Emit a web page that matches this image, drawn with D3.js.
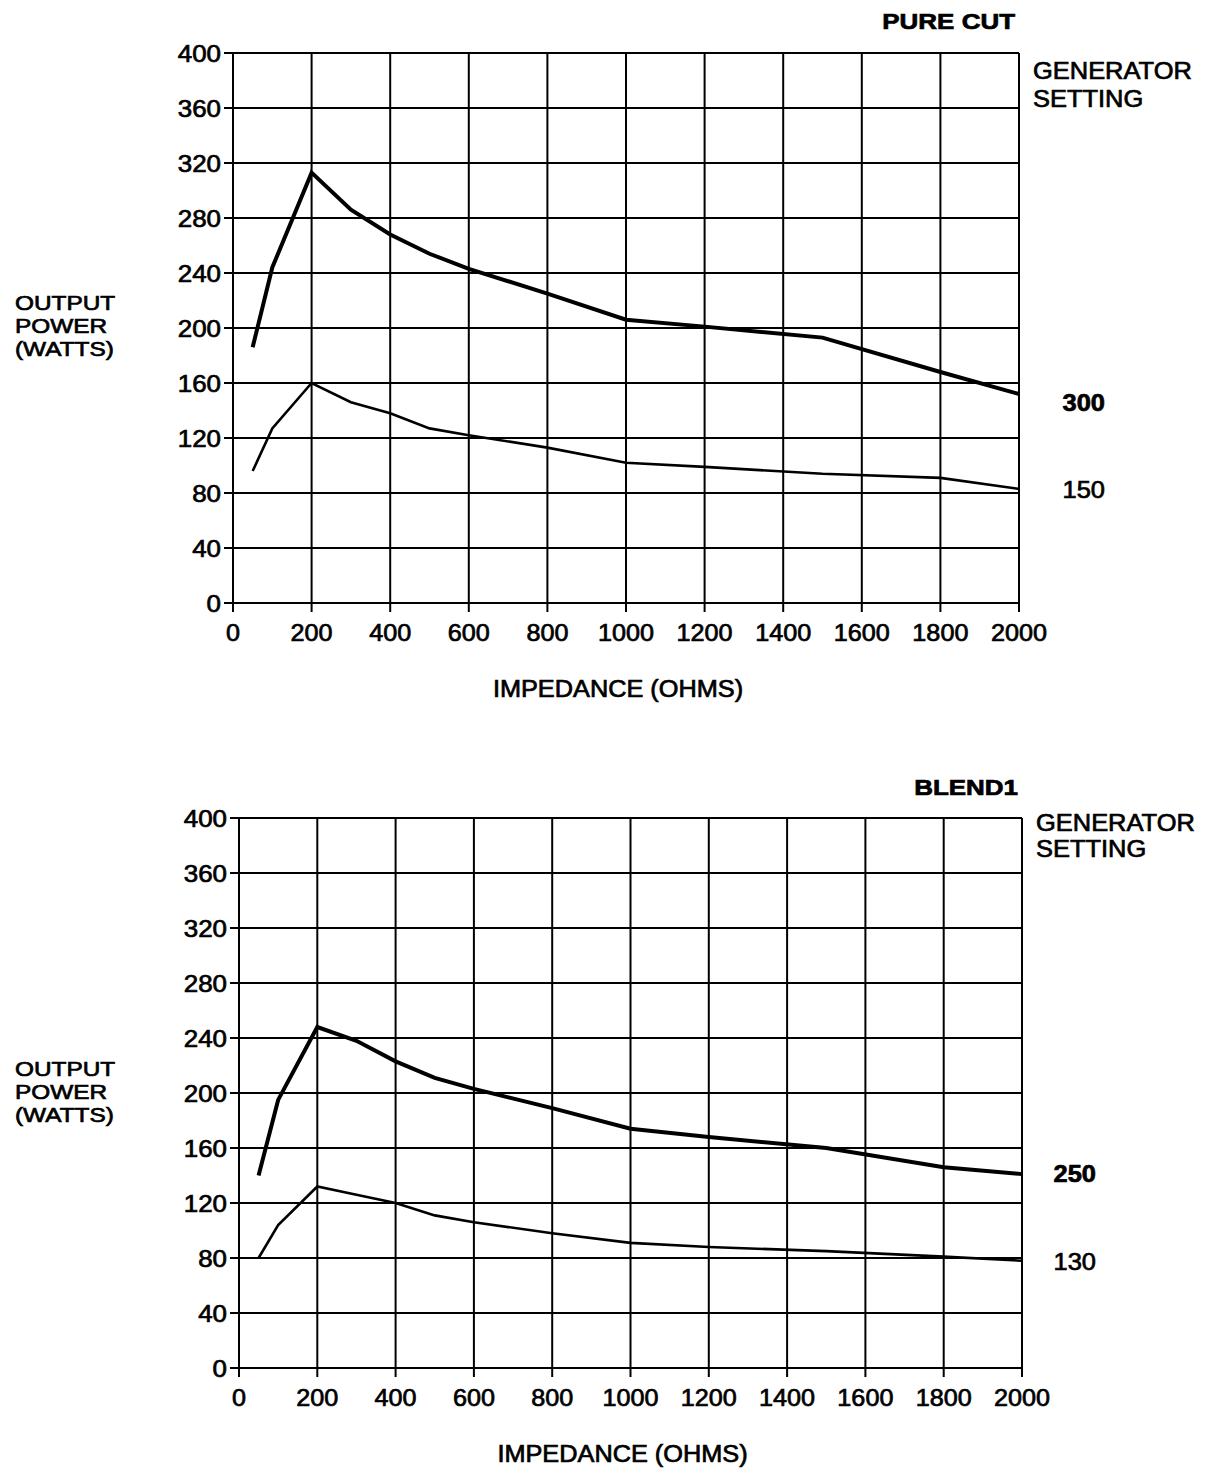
<!DOCTYPE html>
<html>
<head>
<meta charset="utf-8">
<script src="https://cdn.jsdelivr.net/npm/d3@7"></script>
<style>
  html, body { margin: 0; padding: 0; background: #fff; }
  svg { display: block; font-family: "Liberation Sans", Arial, Helvetica, sans-serif; }
  text.heavy { stroke: #000; stroke-width: 0.7px; }
</style>
</head>
<body>
<svg id="chart" width="1220" height="1469"></svg>
<script>
// ---------- DATA ----------
const yTicks = [0, 40, 80, 120, 160, 200, 240, 280, 320, 360, 400];
const xTicks = [0, 200, 400, 600, 800, 1000, 1200, 1400, 1600, 1800, 2000];

const impedance = [50, 100, 200, 300, 400, 500, 600, 800, 1000, 1200, 1500, 1800, 2000];

const pureCut300 = [186, 244, 313, 286, 268, 254, 243, 225, 206, 201, 193, 168, 152];
const pureCut150 = [96, 127, 160, 146, 138, 127, 122, 113, 102, 99, 94, 91, 83];

const blend250 = [140, 195, 248, 238, 223, 211, 203, 189, 174, 168, 160, 146, 141];
const blend130 = [80, 104, 132, 126, 120, 111, 106, 98, 91, 88, 85, 81, 78];

const panelTitles = ["PURE CUT", "BLEND1"];
const settingLabels = [["300", "150"], ["250", "130"]];

// ---------- LAYOUT ----------
const panels = [
  { title: panelTitles[0], left: 233, right: 1019, top: 53, bottom: 603,
    series: [
      { values: pureCut300, label: settingLabels[0][0], bold: true, width: 4 },
      { values: pureCut150, label: settingLabels[0][1], bold: false, width: 2.6 }
    ],
    labelY: [411, 498], labelX: 1105,
    titleY: 29, genY: [79, 107], yLabelY: [310, 333, 356], xTitleY: 697 },
  { title: panelTitles[1], left: 239, right: 1022, top: 818, bottom: 1368,
    series: [
      { values: blend250, label: settingLabels[1][0], bold: true, width: 4 },
      { values: blend130, label: settingLabels[1][1], bold: false, width: 2.6 }
    ],
    labelY: [1182, 1270], labelX: 1096,
    titleY: 795, genY: [831, 857], yLabelY: [1076, 1099, 1122], xTitleY: 1462 }
];

const svg = d3.select("#chart");

function stretch(sel, f) {
  sel.each(function () {
    const w = this.getComputedTextLength();
    d3.select(this).attr("textLength", w * f).attr("lengthAdjust", "spacingAndGlyphs");
  });
}

panels.forEach(p => {
  const x = d3.scaleLinear().domain([0, 2000]).range([p.left, p.right]);
  const y = d3.scaleLinear().domain([0, 400]).range([p.bottom, p.top]);
  const g = svg.append("g");

  // grid
  g.append("g").selectAll("line").data(yTicks).join("line")
    .attr("x1", p.left - 9).attr("x2", p.right)
    .attr("y1", d => y(d)).attr("y2", d => y(d))
    .attr("stroke", "#000").attr("stroke-width", 2);
  g.append("g").selectAll("line").data(xTicks).join("line")
    .attr("x1", d => x(d)).attr("x2", d => x(d))
    .attr("y1", p.top).attr("y2", p.bottom + 9)
    .attr("stroke", "#000").attr("stroke-width", 2);

  // y tick labels
  const yl = g.append("g").selectAll("text").data(yTicks).join("text")
    .attr("class", "heavy")
    .attr("x", p.left - 12).attr("y", d => y(d)).attr("dy", "0.36em")
    .attr("text-anchor", "end").attr("font-size", 24).attr("fill", "#000")
    .text(d => d);
  stretch(yl, 1.08);

  // x tick labels
  const xl = g.append("g").selectAll("text").data(xTicks).join("text")
    .attr("class", "heavy")
    .attr("x", d => x(d)).attr("y", p.bottom + 38)
    .attr("text-anchor", "middle").attr("font-size", 24).attr("fill", "#000")
    .text(d => d);
  stretch(xl, 1.05);

  // series lines
  const line = d3.line().x((d, i) => x(impedance[i])).y(d => y(d));
  p.series.forEach((s, k) => {
    g.append("path").datum(s.values)
      .attr("d", line).attr("fill", "none")
      .attr("stroke", "#000").attr("stroke-width", s.width)
      .attr("stroke-linejoin", "miter");
    const t = g.append("text")
      .attr("class", "heavy")
      .attr("x", p.labelX).attr("y", p.labelY[k])
      .attr("text-anchor", "end").attr("font-size", 24)
      .attr("font-weight", s.bold ? "bold" : "normal").attr("fill", "#000")
      .text(s.label);
    stretch(t, 1.06);
  });

  // title
  const tt = g.append("text").attr("x", p.right - 4).attr("y", p.titleY)
    .attr("class", "heavy")
    .attr("text-anchor", "end").attr("font-size", 22).attr("font-weight", "bold")
    .text(p.title);
  stretch(tt, 1.18);

  // generator setting
  const gs = g.append("g").selectAll("text").data(["GENERATOR", "SETTING"]).join("text")
    .attr("class", "heavy")
    .attr("x", p.right + 14).attr("y", (d, i) => p.genY[i])
    .attr("font-size", 24).text(d => d);
  stretch(gs, 1.06);

  // y axis title
  const yt = g.append("g").selectAll("text").data(["OUTPUT", "POWER", "(WATTS)"]).join("text")
    .attr("class", "heavy")
    .attr("x", 15).attr("y", (d, i) => p.yLabelY[i])
    .attr("font-size", 21).text(d => d);
  stretch(yt, 1.16);

  // x axis title
  const xt = g.append("text").attr("x", (p.left + p.right) / 2 - 8).attr("y", p.xTitleY)
    .attr("class", "heavy")
    .attr("text-anchor", "middle").attr("font-size", 23).text("IMPEDANCE (OHMS)");
  stretch(xt, 1.1);
});
</script>
</body>
</html>
